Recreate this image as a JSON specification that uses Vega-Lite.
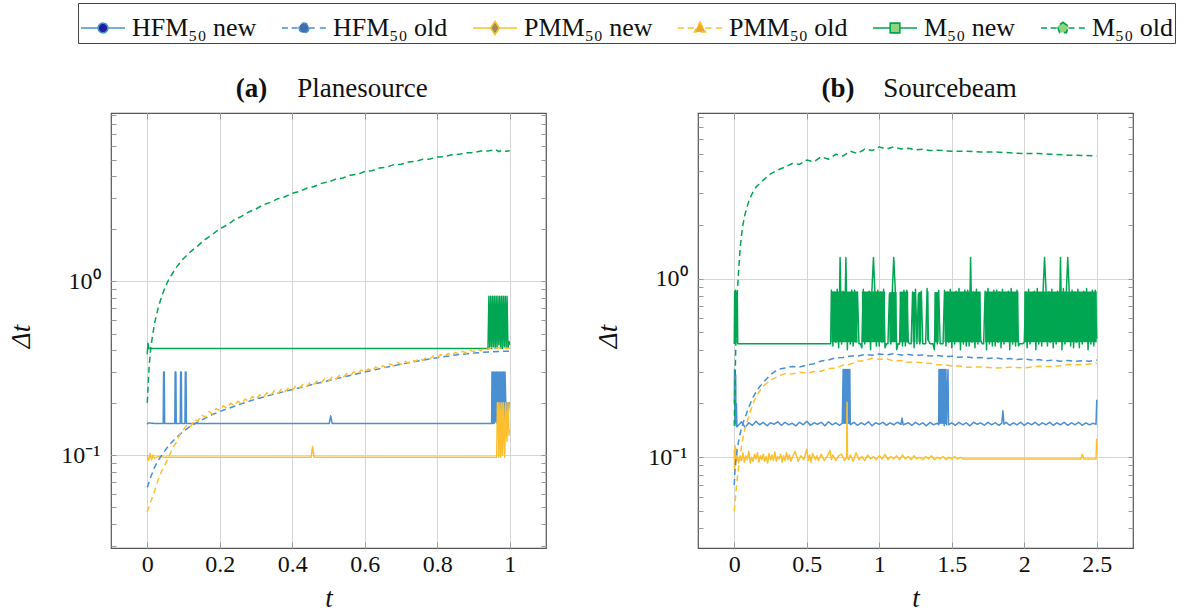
{
"$schema":"https://vega.github.io/schema/vega-lite/v6.json",
"background":"white",
"padding":{"left":6,"top":2,"right":5,"bottom":5},
"bounds":"flush",
"spacing":152,
"config":{
 "font":"Liberation Serif",
 "view":{"stroke":"#555","strokeWidth":1.2},
 "axis":{"labelFont":"Liberation Serif","labelFontSize":24,"labelColor":"#111","titleFont":"Liberation Serif","titleFontSize":27,"titleFontWeight":"normal","titleColor":"#111","domain":false,"tickColor":"#999","gridColor":"#d6d6d6","gridWidth":1,"labelOverlap":false,"labelFlush":false},
 "legend":{"orient":"none","legendX":-33,"legendY":-110,"direction":"horizontal","columns":6,"padding":2,"strokeColor":"#444","cornerRadius":0,"labelFont":"Liberation Serif","labelFontSize":26,"labelColor":"#111","labelOffset":6,"labelLimit":300,"columnPadding":21,"symbolSize":1936,"symbolStrokeWidth":1.6,"symbolOpacity":1}
},
"datasets":{
"a":[
{"s":"HFMn","t":0,"v":0.15},{"s":"HFMn","t":0.002,"v":0.153},{"s":"HFMn","t":0.02,"v":0.152},{"s":"HFMn","t":0.044,"v":0.152},{"s":"HFMn","t":0.045,"v":0.3},{"s":"HFMn","t":0.047,"v":0.3},{"s":"HFMn","t":0.048,"v":0.152},{"s":"HFMn","t":0.076,"v":0.152},{"s":"HFMn","t":0.077,"v":0.3},{"s":"HFMn","t":0.079,"v":0.3},{"s":"HFMn","t":0.08,"v":0.152},{"s":"HFMn","t":0.091,"v":0.152},{"s":"HFMn","t":0.092,"v":0.3},{"s":"HFMn","t":0.094,"v":0.3},{"s":"HFMn","t":0.095,"v":0.152},{"s":"HFMn","t":0.104,"v":0.152},{"s":"HFMn","t":0.105,"v":0.3},{"s":"HFMn","t":0.107,"v":0.3},{"s":"HFMn","t":0.108,"v":0.152},{"s":"HFMn","t":0.3,"v":0.152},{"s":"HFMn","t":0.502,"v":0.152},{"s":"HFMn","t":0.506,"v":0.168},{"s":"HFMn","t":0.51,"v":0.152},{"s":"HFMn","t":0.75,"v":0.152},{"s":"HFMn","t":0.95,"v":0.152},{"s":"HFMn","t":0.951,"v":0.3},{"s":"HFMn","t":0.953,"v":0.152},{"s":"HFMn","t":0.955,"v":0.3},{"s":"HFMn","t":0.957,"v":0.152},{"s":"HFMn","t":0.959,"v":0.3},{"s":"HFMn","t":0.961,"v":0.155},{"s":"HFMn","t":0.963,"v":0.3},{"s":"HFMn","t":0.965,"v":0.152},{"s":"HFMn","t":0.967,"v":0.3},{"s":"HFMn","t":0.969,"v":0.16},{"s":"HFMn","t":0.971,"v":0.3},{"s":"HFMn","t":0.973,"v":0.152},{"s":"HFMn","t":0.975,"v":0.3},{"s":"HFMn","t":0.977,"v":0.152},{"s":"HFMn","t":0.979,"v":0.3},{"s":"HFMn","t":0.981,"v":0.152},{"s":"HFMn","t":0.983,"v":0.3},{"s":"HFMn","t":0.985,"v":0.155},{"s":"HFMn","t":0.987,"v":0.3},{"s":"HFMn","t":0.989,"v":0.2},{"s":"HFMn","t":0.991,"v":0.152},{"s":"HFMn","t":0.993,"v":0.2},{"s":"HFMn","t":0.995,"v":0.16},{"s":"HFMn","t":0.998,"v":0.2},{"s":"HFMn","t":1.0,"v":0.2},
{"s":"PMMn","t":0,"v":0.1},{"s":"PMMn","t":0.004,"v":0.093},{"s":"PMMn","t":0.008,"v":0.102},{"s":"PMMn","t":0.012,"v":0.094},{"s":"PMMn","t":0.016,"v":0.1},{"s":"PMMn","t":0.02,"v":0.096},{"s":"PMMn","t":0.03,"v":0.098},{"s":"PMMn","t":0.05,"v":0.097},{"s":"PMMn","t":0.2,"v":0.097},{"s":"PMMn","t":0.452,"v":0.097},{"s":"PMMn","t":0.456,"v":0.112},{"s":"PMMn","t":0.46,"v":0.097},{"s":"PMMn","t":0.7,"v":0.097},{"s":"PMMn","t":0.964,"v":0.097},{"s":"PMMn","t":0.966,"v":0.2},{"s":"PMMn","t":0.968,"v":0.2},{"s":"PMMn","t":0.97,"v":0.097},{"s":"PMMn","t":0.973,"v":0.2},{"s":"PMMn","t":0.975,"v":0.097},{"s":"PMMn","t":0.978,"v":0.2},{"s":"PMMn","t":0.98,"v":0.1},{"s":"PMMn","t":0.983,"v":0.2},{"s":"PMMn","t":0.986,"v":0.097},{"s":"PMMn","t":0.989,"v":0.2},{"s":"PMMn","t":0.992,"v":0.12},{"s":"PMMn","t":0.995,"v":0.2},{"s":"PMMn","t":0.998,"v":0.13},{"s":"PMMn","t":1.0,"v":0.14},
{"s":"Mn","t":0,"v":0.38},{"s":"Mn","t":0.002,"v":0.44},{"s":"Mn","t":0.004,"v":0.41},{"s":"Mn","t":0.1,"v":0.41},{"s":"Mn","t":0.5,"v":0.41},{"s":"Mn","t":0.94,"v":0.41},{"s":"Mn","t":0.9425,"v":0.82},{"s":"Mn","t":0.945,"v":0.41},{"s":"Mn","t":0.9475,"v":0.82},{"s":"Mn","t":0.95,"v":0.41},{"s":"Mn","t":0.9525,"v":0.82},{"s":"Mn","t":0.955,"v":0.42},{"s":"Mn","t":0.9575,"v":0.82},{"s":"Mn","t":0.96,"v":0.41},{"s":"Mn","t":0.9625,"v":0.82},{"s":"Mn","t":0.965,"v":0.41},{"s":"Mn","t":0.9675,"v":0.82},{"s":"Mn","t":0.97,"v":0.43},{"s":"Mn","t":0.9725,"v":0.82},{"s":"Mn","t":0.975,"v":0.41},{"s":"Mn","t":0.9775,"v":0.82},{"s":"Mn","t":0.98,"v":0.41},{"s":"Mn","t":0.9825,"v":0.82},{"s":"Mn","t":0.985,"v":0.42},{"s":"Mn","t":0.9875,"v":0.82},{"s":"Mn","t":0.99,"v":0.41},{"s":"Mn","t":0.9925,"v":0.82},{"s":"Mn","t":0.995,"v":0.41},{"s":"Mn","t":0.998,"v":0.45},{"s":"Mn","t":1.0,"v":0.43},
{"s":"HFMo","t":0,"v":0.065},{"s":"HFMo","t":0.01,"v":0.075},{"s":"HFMo","t":0.02,"v":0.085},{"s":"HFMo","t":0.03,"v":0.093},{"s":"HFMo","t":0.04,"v":0.1},{"s":"HFMo","t":0.06,"v":0.114},{"s":"HFMo","t":0.08,"v":0.126},{"s":"HFMo","t":0.1,"v":0.137},{"s":"HFMo","t":0.12,"v":0.147},{"s":"HFMo","t":0.14,"v":0.155},{"s":"HFMo","t":0.16,"v":0.163},{"s":"HFMo","t":0.18,"v":0.171},{"s":"HFMo","t":0.2,"v":0.178},{"s":"HFMo","t":0.25,"v":0.194},{"s":"HFMo","t":0.3,"v":0.21},{"s":"HFMo","t":0.35,"v":0.224},{"s":"HFMo","t":0.4,"v":0.238},{"s":"HFMo","t":0.45,"v":0.253},{"s":"HFMo","t":0.5,"v":0.268},{"s":"HFMo","t":0.55,"v":0.284},{"s":"HFMo","t":0.6,"v":0.3},{"s":"HFMo","t":0.65,"v":0.317},{"s":"HFMo","t":0.7,"v":0.333},{"s":"HFMo","t":0.75,"v":0.349},{"s":"HFMo","t":0.8,"v":0.363},{"s":"HFMo","t":0.85,"v":0.376},{"s":"HFMo","t":0.9,"v":0.386},{"s":"HFMo","t":0.95,"v":0.393},{"s":"HFMo","t":1.0,"v":0.396},
{"s":"PMMo","t":0,"v":0.047},{"s":"PMMo","t":0.01,"v":0.054},{"s":"PMMo","t":0.02,"v":0.062},{"s":"PMMo","t":0.03,"v":0.072},{"s":"PMMo","t":0.04,"v":0.081},{"s":"PMMo","t":0.05,"v":0.089},{"s":"PMMo","t":0.06,"v":0.098},{"s":"PMMo","t":0.07,"v":0.11},{"s":"PMMo","t":0.08,"v":0.118},{"s":"PMMo","t":0.09,"v":0.132},{"s":"PMMo","t":0.1,"v":0.14},{"s":"PMMo","t":0.11,"v":0.15},{"s":"PMMo","t":0.12,"v":0.146},{"s":"PMMo","t":0.13,"v":0.16},{"s":"PMMo","t":0.14,"v":0.157},{"s":"PMMo","t":0.15,"v":0.17},{"s":"PMMo","t":0.16,"v":0.165},{"s":"PMMo","t":0.17,"v":0.178},{"s":"PMMo","t":0.18,"v":0.172},{"s":"PMMo","t":0.19,"v":0.185},{"s":"PMMo","t":0.2,"v":0.18},{"s":"PMMo","t":0.21,"v":0.192},{"s":"PMMo","t":0.22,"v":0.186},{"s":"PMMo","t":0.23,"v":0.199},{"s":"PMMo","t":0.24,"v":0.192},{"s":"PMMo","t":0.25,"v":0.204},{"s":"PMMo","t":0.26,"v":0.198},{"s":"PMMo","t":0.27,"v":0.21},{"s":"PMMo","t":0.28,"v":0.203},{"s":"PMMo","t":0.29,"v":0.217},{"s":"PMMo","t":0.3,"v":0.209},{"s":"PMMo","t":0.31,"v":0.222},{"s":"PMMo","t":0.32,"v":0.214},{"s":"PMMo","t":0.33,"v":0.228},{"s":"PMMo","t":0.34,"v":0.22},{"s":"PMMo","t":0.35,"v":0.234},{"s":"PMMo","t":0.36,"v":0.225},{"s":"PMMo","t":0.37,"v":0.24},{"s":"PMMo","t":0.38,"v":0.231},{"s":"PMMo","t":0.39,"v":0.244},{"s":"PMMo","t":0.4,"v":0.236},{"s":"PMMo","t":0.41,"v":0.25},{"s":"PMMo","t":0.42,"v":0.242},{"s":"PMMo","t":0.43,"v":0.257},{"s":"PMMo","t":0.44,"v":0.248},{"s":"PMMo","t":0.45,"v":0.263},{"s":"PMMo","t":0.46,"v":0.255},{"s":"PMMo","t":0.47,"v":0.268},{"s":"PMMo","t":0.48,"v":0.26},{"s":"PMMo","t":0.49,"v":0.275},{"s":"PMMo","t":0.5,"v":0.266},{"s":"PMMo","t":0.51,"v":0.281},{"s":"PMMo","t":0.52,"v":0.273},{"s":"PMMo","t":0.53,"v":0.287},{"s":"PMMo","t":0.54,"v":0.279},{"s":"PMMo","t":0.55,"v":0.294},{"s":"PMMo","t":0.56,"v":0.286},{"s":"PMMo","t":0.57,"v":0.301},{"s":"PMMo","t":0.58,"v":0.292},{"s":"PMMo","t":0.59,"v":0.308},{"s":"PMMo","t":0.6,"v":0.299},{"s":"PMMo","t":0.61,"v":0.313},{"s":"PMMo","t":0.62,"v":0.305},{"s":"PMMo","t":0.63,"v":0.321},{"s":"PMMo","t":0.64,"v":0.312},{"s":"PMMo","t":0.65,"v":0.327},{"s":"PMMo","t":0.66,"v":0.318},{"s":"PMMo","t":0.67,"v":0.334},{"s":"PMMo","t":0.68,"v":0.325},{"s":"PMMo","t":0.69,"v":0.341},{"s":"PMMo","t":0.7,"v":0.332},{"s":"PMMo","t":0.71,"v":0.347},{"s":"PMMo","t":0.72,"v":0.338},{"s":"PMMo","t":0.73,"v":0.354},{"s":"PMMo","t":0.74,"v":0.345},{"s":"PMMo","t":0.75,"v":0.36},{"s":"PMMo","t":0.76,"v":0.351},{"s":"PMMo","t":0.77,"v":0.366},{"s":"PMMo","t":0.78,"v":0.357},{"s":"PMMo","t":0.79,"v":0.372},{"s":"PMMo","t":0.8,"v":0.362},{"s":"PMMo","t":0.81,"v":0.378},{"s":"PMMo","t":0.82,"v":0.368},{"s":"PMMo","t":0.83,"v":0.384},{"s":"PMMo","t":0.84,"v":0.373},{"s":"PMMo","t":0.85,"v":0.389},{"s":"PMMo","t":0.86,"v":0.38},{"s":"PMMo","t":0.87,"v":0.395},{"s":"PMMo","t":0.88,"v":0.386},{"s":"PMMo","t":0.89,"v":0.401},{"s":"PMMo","t":0.9,"v":0.392},{"s":"PMMo","t":0.91,"v":0.408},{"s":"PMMo","t":0.92,"v":0.398},{"s":"PMMo","t":0.93,"v":0.415},{"s":"PMMo","t":0.94,"v":0.404},{"s":"PMMo","t":0.95,"v":0.418},{"s":"PMMo","t":0.96,"v":0.41},{"s":"PMMo","t":0.97,"v":0.415},{"s":"PMMo","t":0.98,"v":0.408},{"s":"PMMo","t":0.99,"v":0.412},{"s":"PMMo","t":1.0,"v":0.41},
{"s":"Mo","t":0,"v":0.2},{"s":"Mo","t":0.005,"v":0.32},{"s":"Mo","t":0.01,"v":0.42},{"s":"Mo","t":0.02,"v":0.57},{"s":"Mo","t":0.03,"v":0.7},{"s":"Mo","t":0.04,"v":0.82},{"s":"Mo","t":0.05,"v":0.93},{"s":"Mo","t":0.06,"v":1.03},{"s":"Mo","t":0.08,"v":1.2},{"s":"Mo","t":0.1,"v":1.35},{"s":"Mo","t":0.12,"v":1.48},{"s":"Mo","t":0.14,"v":1.6},{"s":"Mo","t":0.16,"v":1.74},{"s":"Mo","t":0.18,"v":1.86},{"s":"Mo","t":0.2,"v":2.0},{"s":"Mo","t":0.22,"v":2.1},{"s":"Mo","t":0.24,"v":2.25},{"s":"Mo","t":0.26,"v":2.36},{"s":"Mo","t":0.28,"v":2.5},{"s":"Mo","t":0.3,"v":2.6},{"s":"Mo","t":0.32,"v":2.75},{"s":"Mo","t":0.34,"v":2.84},{"s":"Mo","t":0.36,"v":2.98},{"s":"Mo","t":0.38,"v":3.06},{"s":"Mo","t":0.4,"v":3.2},{"s":"Mo","t":0.42,"v":3.28},{"s":"Mo","t":0.44,"v":3.42},{"s":"Mo","t":0.46,"v":3.5},{"s":"Mo","t":0.48,"v":3.65},{"s":"Mo","t":0.5,"v":3.72},{"s":"Mo","t":0.52,"v":3.86},{"s":"Mo","t":0.54,"v":3.92},{"s":"Mo","t":0.56,"v":4.07},{"s":"Mo","t":0.58,"v":4.12},{"s":"Mo","t":0.6,"v":4.27},{"s":"Mo","t":0.62,"v":4.32},{"s":"Mo","t":0.64,"v":4.47},{"s":"Mo","t":0.66,"v":4.52},{"s":"Mo","t":0.68,"v":4.68},{"s":"Mo","t":0.7,"v":4.7},{"s":"Mo","t":0.72,"v":4.84},{"s":"Mo","t":0.74,"v":4.88},{"s":"Mo","t":0.76,"v":5.02},{"s":"Mo","t":0.78,"v":5.04},{"s":"Mo","t":0.8,"v":5.18},{"s":"Mo","t":0.82,"v":5.2},{"s":"Mo","t":0.84,"v":5.33},{"s":"Mo","t":0.86,"v":5.36},{"s":"Mo","t":0.88,"v":5.48},{"s":"Mo","t":0.9,"v":5.48},{"s":"Mo","t":0.92,"v":5.6},{"s":"Mo","t":0.94,"v":5.6},{"s":"Mo","t":0.96,"v":5.72},{"s":"Mo","t":0.97,"v":5.55},{"s":"Mo","t":0.98,"v":5.68},{"s":"Mo","t":0.99,"v":5.58},{"s":"Mo","t":1.0,"v":5.62}
],
"bband":[
{"t1":0.67,"t2":0.85,"lo":0.44,"hi":0.845},{"t1":0.88,"t2":1.04,"lo":0.44,"hi":0.845},{"t1":1.07,"t2":1.12,"lo":0.44,"hi":0.84},{"t1":1.14,"t2":1.2,"lo":0.44,"hi":0.845},{"t1":1.23,"t2":1.25,"lo":0.44,"hi":0.84},{"t1":1.27,"t2":1.29,"lo":0.44,"hi":0.84},{"t1":1.33,"t2":1.34,"lo":0.45,"hi":0.85},{"t1":1.38,"t2":1.41,"lo":0.44,"hi":0.84},{"t1":1.45,"t2":1.7,"lo":0.44,"hi":0.845},{"t1":1.73,"t2":1.96,"lo":0.44,"hi":0.845},{"t1":2.0,"t2":2.5,"lo":0.44,"hi":0.845}
],
"b":[
{"s":"HFMn","t":0,"v":0.2},{"s":"HFMn","t":0.002,"v":0.31},{"s":"HFMn","t":0.004,"v":0.16},{"s":"HFMn","t":0.006,"v":0.3},{"s":"HFMn","t":0.008,"v":0.155},{"s":"HFMn","t":0.01,"v":0.29},{"s":"HFMn","t":0.012,"v":0.15},{"s":"HFMn","t":0.015,"v":0.2},{"s":"HFMn","t":0.018,"v":0.148},{"s":"HFMn","t":0.025,"v":0.15},{"s":"HFMn","t":0.05,"v":0.158},{"s":"HFMn","t":0.075,"v":0.147},{"s":"HFMn","t":0.1,"v":0.156},{"s":"HFMn","t":0.125,"v":0.151},{"s":"HFMn","t":0.15,"v":0.159},{"s":"HFMn","t":0.175,"v":0.152},{"s":"HFMn","t":0.2,"v":0.157},{"s":"HFMn","t":0.225,"v":0.15},{"s":"HFMn","t":0.25,"v":0.156},{"s":"HFMn","t":0.275,"v":0.153},{"s":"HFMn","t":0.3,"v":0.158},{"s":"HFMn","t":0.325,"v":0.151},{"s":"HFMn","t":0.35,"v":0.157},{"s":"HFMn","t":0.375,"v":0.152},{"s":"HFMn","t":0.4,"v":0.155},{"s":"HFMn","t":0.425,"v":0.15},{"s":"HFMn","t":0.45,"v":0.157},{"s":"HFMn","t":0.475,"v":0.152},{"s":"HFMn","t":0.5,"v":0.159},{"s":"HFMn","t":0.525,"v":0.151},{"s":"HFMn","t":0.55,"v":0.156},{"s":"HFMn","t":0.575,"v":0.153},{"s":"HFMn","t":0.6,"v":0.157},{"s":"HFMn","t":0.625,"v":0.15},{"s":"HFMn","t":0.65,"v":0.158},{"s":"HFMn","t":0.675,"v":0.152},{"s":"HFMn","t":0.7,"v":0.156},{"s":"HFMn","t":0.725,"v":0.151},{"s":"HFMn","t":0.745,"v":0.155},{"s":"HFMn","t":0.751,"v":0.31},{"s":"HFMn","t":0.755,"v":0.155},{"s":"HFMn","t":0.759,"v":0.31},{"s":"HFMn","t":0.763,"v":0.155},{"s":"HFMn","t":0.767,"v":0.31},{"s":"HFMn","t":0.771,"v":0.155},{"s":"HFMn","t":0.775,"v":0.31},{"s":"HFMn","t":0.779,"v":0.155},{"s":"HFMn","t":0.783,"v":0.31},{"s":"HFMn","t":0.787,"v":0.155},{"s":"HFMn","t":0.791,"v":0.31},{"s":"HFMn","t":0.795,"v":0.155},{"s":"HFMn","t":0.797,"v":0.31},{"s":"HFMn","t":0.8,"v":0.152},{"s":"HFMn","t":0.825,"v":0.157},{"s":"HFMn","t":0.85,"v":0.151},{"s":"HFMn","t":0.875,"v":0.156},{"s":"HFMn","t":0.9,"v":0.152},{"s":"HFMn","t":0.925,"v":0.158},{"s":"HFMn","t":0.95,"v":0.15},{"s":"HFMn","t":0.975,"v":0.156},{"s":"HFMn","t":1.0,"v":0.153},{"s":"HFMn","t":1.025,"v":0.157},{"s":"HFMn","t":1.05,"v":0.151},{"s":"HFMn","t":1.075,"v":0.156},{"s":"HFMn","t":1.1,"v":0.152},{"s":"HFMn","t":1.125,"v":0.157},{"s":"HFMn","t":1.15,"v":0.153},{"s":"HFMn","t":1.157,"v":0.166},{"s":"HFMn","t":1.165,"v":0.152},{"s":"HFMn","t":1.2,"v":0.156},{"s":"HFMn","t":1.225,"v":0.151},{"s":"HFMn","t":1.25,"v":0.157},{"s":"HFMn","t":1.275,"v":0.152},{"s":"HFMn","t":1.3,"v":0.156},{"s":"HFMn","t":1.325,"v":0.15},{"s":"HFMn","t":1.35,"v":0.157},{"s":"HFMn","t":1.375,"v":0.152},{"s":"HFMn","t":1.4,"v":0.155},{"s":"HFMn","t":1.41,"v":0.152},{"s":"HFMn","t":1.412,"v":0.31},{"s":"HFMn","t":1.416,"v":0.155},{"s":"HFMn","t":1.42,"v":0.31},{"s":"HFMn","t":1.424,"v":0.155},{"s":"HFMn","t":1.428,"v":0.31},{"s":"HFMn","t":1.432,"v":0.155},{"s":"HFMn","t":1.436,"v":0.31},{"s":"HFMn","t":1.44,"v":0.155},{"s":"HFMn","t":1.444,"v":0.31},{"s":"HFMn","t":1.448,"v":0.15},{"s":"HFMn","t":1.452,"v":0.31},{"s":"HFMn","t":1.456,"v":0.155},{"s":"HFMn","t":1.46,"v":0.31},{"s":"HFMn","t":1.464,"v":0.152},{"s":"HFMn","t":1.474,"v":0.31},{"s":"HFMn","t":1.478,"v":0.152},{"s":"HFMn","t":1.5,"v":0.156},{"s":"HFMn","t":1.525,"v":0.151},{"s":"HFMn","t":1.55,"v":0.157},{"s":"HFMn","t":1.575,"v":0.152},{"s":"HFMn","t":1.6,"v":0.156},{"s":"HFMn","t":1.625,"v":0.15},{"s":"HFMn","t":1.65,"v":0.157},{"s":"HFMn","t":1.675,"v":0.153},{"s":"HFMn","t":1.7,"v":0.156},{"s":"HFMn","t":1.725,"v":0.151},{"s":"HFMn","t":1.75,"v":0.157},{"s":"HFMn","t":1.775,"v":0.152},{"s":"HFMn","t":1.8,"v":0.156},{"s":"HFMn","t":1.825,"v":0.151},{"s":"HFMn","t":1.845,"v":0.155},{"s":"HFMn","t":1.853,"v":0.182},{"s":"HFMn","t":1.86,"v":0.153},{"s":"HFMn","t":1.875,"v":0.157},{"s":"HFMn","t":1.9,"v":0.151},{"s":"HFMn","t":1.925,"v":0.156},{"s":"HFMn","t":1.95,"v":0.152},{"s":"HFMn","t":1.975,"v":0.157},{"s":"HFMn","t":2.0,"v":0.151},{"s":"HFMn","t":2.025,"v":0.156},{"s":"HFMn","t":2.05,"v":0.152},{"s":"HFMn","t":2.075,"v":0.157},{"s":"HFMn","t":2.1,"v":0.151},{"s":"HFMn","t":2.125,"v":0.156},{"s":"HFMn","t":2.15,"v":0.152},{"s":"HFMn","t":2.175,"v":0.157},{"s":"HFMn","t":2.2,"v":0.151},{"s":"HFMn","t":2.225,"v":0.156},{"s":"HFMn","t":2.25,"v":0.152},{"s":"HFMn","t":2.275,"v":0.157},{"s":"HFMn","t":2.3,"v":0.151},{"s":"HFMn","t":2.325,"v":0.156},{"s":"HFMn","t":2.35,"v":0.152},{"s":"HFMn","t":2.375,"v":0.157},{"s":"HFMn","t":2.4,"v":0.151},{"s":"HFMn","t":2.425,"v":0.156},{"s":"HFMn","t":2.45,"v":0.152},{"s":"HFMn","t":2.475,"v":0.155},{"s":"HFMn","t":2.495,"v":0.153},{"s":"HFMn","t":2.5,"v":0.21},
{"s":"PMMn","t":0,"v":0.11},{"s":"PMMn","t":0.003,"v":0.085},{"s":"PMMn","t":0.006,"v":0.116},{"s":"PMMn","t":0.009,"v":0.09},{"s":"PMMn","t":0.012,"v":0.112},{"s":"PMMn","t":0.015,"v":0.095},{"s":"PMMn","t":0.02,"v":0.104},{"s":"PMMn","t":0.03,"v":0.093},{"s":"PMMn","t":0.04,"v":0.101},{"s":"PMMn","t":0.05,"v":0.096},{"s":"PMMn","t":0.06,"v":0.106},{"s":"PMMn","t":0.07,"v":0.094},{"s":"PMMn","t":0.08,"v":0.102},{"s":"PMMn","t":0.09,"v":0.097},{"s":"PMMn","t":0.1,"v":0.108},{"s":"PMMn","t":0.11,"v":0.093},{"s":"PMMn","t":0.12,"v":0.1},{"s":"PMMn","t":0.13,"v":0.095},{"s":"PMMn","t":0.14,"v":0.104},{"s":"PMMn","t":0.15,"v":0.098},{"s":"PMMn","t":0.16,"v":0.106},{"s":"PMMn","t":0.17,"v":0.094},{"s":"PMMn","t":0.18,"v":0.102},{"s":"PMMn","t":0.19,"v":0.097},{"s":"PMMn","t":0.2,"v":0.104},{"s":"PMMn","t":0.21,"v":0.095},{"s":"PMMn","t":0.22,"v":0.101},{"s":"PMMn","t":0.23,"v":0.093},{"s":"PMMn","t":0.24,"v":0.105},{"s":"PMMn","t":0.25,"v":0.097},{"s":"PMMn","t":0.26,"v":0.103},{"s":"PMMn","t":0.27,"v":0.096},{"s":"PMMn","t":0.28,"v":0.107},{"s":"PMMn","t":0.29,"v":0.095},{"s":"PMMn","t":0.3,"v":0.101},{"s":"PMMn","t":0.31,"v":0.098},{"s":"PMMn","t":0.32,"v":0.104},{"s":"PMMn","t":0.33,"v":0.094},{"s":"PMMn","t":0.34,"v":0.102},{"s":"PMMn","t":0.35,"v":0.096},{"s":"PMMn","t":0.36,"v":0.106},{"s":"PMMn","t":0.37,"v":0.097},{"s":"PMMn","t":0.38,"v":0.103},{"s":"PMMn","t":0.39,"v":0.095},{"s":"PMMn","t":0.4,"v":0.1},{"s":"PMMn","t":0.42,"v":0.108},{"s":"PMMn","t":0.44,"v":0.095},{"s":"PMMn","t":0.46,"v":0.102},{"s":"PMMn","t":0.48,"v":0.097},{"s":"PMMn","t":0.5,"v":0.111},{"s":"PMMn","t":0.51,"v":0.096},{"s":"PMMn","t":0.52,"v":0.103},{"s":"PMMn","t":0.53,"v":0.094},{"s":"PMMn","t":0.54,"v":0.105},{"s":"PMMn","t":0.56,"v":0.097},{"s":"PMMn","t":0.57,"v":0.102},{"s":"PMMn","t":0.58,"v":0.096},{"s":"PMMn","t":0.6,"v":0.104},{"s":"PMMn","t":0.62,"v":0.096},{"s":"PMMn","t":0.64,"v":0.101},{"s":"PMMn","t":0.66,"v":0.109},{"s":"PMMn","t":0.67,"v":0.097},{"s":"PMMn","t":0.68,"v":0.103},{"s":"PMMn","t":0.7,"v":0.096},{"s":"PMMn","t":0.72,"v":0.102},{"s":"PMMn","t":0.74,"v":0.104},{"s":"PMMn","t":0.76,"v":0.096},{"s":"PMMn","t":0.775,"v":0.1},{"s":"PMMn","t":0.778,"v":0.203},{"s":"PMMn","t":0.781,"v":0.1},{"s":"PMMn","t":0.79,"v":0.097},{"s":"PMMn","t":0.8,"v":0.103},{"s":"PMMn","t":0.82,"v":0.095},{"s":"PMMn","t":0.84,"v":0.106},{"s":"PMMn","t":0.86,"v":0.097},{"s":"PMMn","t":0.88,"v":0.101},{"s":"PMMn","t":0.9,"v":0.096},{"s":"PMMn","t":0.92,"v":0.103},{"s":"PMMn","t":0.94,"v":0.098},{"s":"PMMn","t":0.96,"v":0.101},{"s":"PMMn","t":0.98,"v":0.097},{"s":"PMMn","t":1.0,"v":0.102},{"s":"PMMn","t":1.02,"v":0.098},{"s":"PMMn","t":1.04,"v":0.104},{"s":"PMMn","t":1.06,"v":0.097},{"s":"PMMn","t":1.08,"v":0.101},{"s":"PMMn","t":1.1,"v":0.098},{"s":"PMMn","t":1.12,"v":0.102},{"s":"PMMn","t":1.14,"v":0.097},{"s":"PMMn","t":1.16,"v":0.103},{"s":"PMMn","t":1.18,"v":0.098},{"s":"PMMn","t":1.2,"v":0.101},{"s":"PMMn","t":1.22,"v":0.097},{"s":"PMMn","t":1.24,"v":0.102},{"s":"PMMn","t":1.26,"v":0.098},{"s":"PMMn","t":1.28,"v":0.1},{"s":"PMMn","t":1.3,"v":0.097},{"s":"PMMn","t":1.32,"v":0.101},{"s":"PMMn","t":1.34,"v":0.098},{"s":"PMMn","t":1.36,"v":0.102},{"s":"PMMn","t":1.38,"v":0.097},{"s":"PMMn","t":1.4,"v":0.1},{"s":"PMMn","t":1.42,"v":0.098},{"s":"PMMn","t":1.44,"v":0.101},{"s":"PMMn","t":1.46,"v":0.097},{"s":"PMMn","t":1.48,"v":0.1},{"s":"PMMn","t":1.5,"v":0.098},{"s":"PMMn","t":1.52,"v":0.101},{"s":"PMMn","t":1.54,"v":0.098},{"s":"PMMn","t":1.56,"v":0.1},{"s":"PMMn","t":1.58,"v":0.098},{"s":"PMMn","t":1.8,"v":0.098},{"s":"PMMn","t":2.0,"v":0.098},{"s":"PMMn","t":2.39,"v":0.098},{"s":"PMMn","t":2.4,"v":0.104},{"s":"PMMn","t":2.41,"v":0.098},{"s":"PMMn","t":2.495,"v":0.098},{"s":"PMMn","t":2.5,"v":0.127},
{"s":"Mn","t":0,"v":0.43},{"s":"Mn","t":0.003,"v":0.85},{"s":"Mn","t":0.006,"v":0.45},{"s":"Mn","t":0.009,"v":0.86},{"s":"Mn","t":0.012,"v":0.44},{"s":"Mn","t":0.015,"v":0.84},{"s":"Mn","t":0.018,"v":0.47},{"s":"Mn","t":0.021,"v":0.83},{"s":"Mn","t":0.024,"v":0.432},{"s":"Mn","t":0.1,"v":0.432},{"s":"Mn","t":0.3,"v":0.432},{"s":"Mn","t":0.5,"v":0.432},{"s":"Mn","t":0.665,"v":0.432},
{"s":"Mn","t":0.67,"v":0.86},{"s":"Mn","t":0.68,"v":0.42},{"s":"Mn","t":0.69,"v":0.84},{"s":"Mn","t":0.7,"v":0.44},{"s":"Mn","t":0.71,"v":0.87},{"s":"Mn","t":0.72,"v":0.41},{"s":"Mn","t":0.73,"v":1.31},{"s":"Mn","t":0.74,"v":0.43},{"s":"Mn","t":0.75,"v":0.85},{"s":"Mn","t":0.76,"v":0.45},{"s":"Mn","t":0.77,"v":1.31},{"s":"Mn","t":0.78,"v":0.4},{"s":"Mn","t":0.79,"v":0.83},{"s":"Mn","t":0.8,"v":0.43},{"s":"Mn","t":0.81,"v":0.86},{"s":"Mn","t":0.82,"v":0.42},{"s":"Mn","t":0.83,"v":0.86},{"s":"Mn","t":0.84,"v":0.44},{"s":"Mn","t":0.85,"v":0.84},{"s":"Mn","t":0.86,"v":0.432},{"s":"Mn","t":0.87,"v":0.432},{"s":"Mn","t":0.88,"v":0.41},{"s":"Mn","t":0.89,"v":0.87},{"s":"Mn","t":0.9,"v":0.43},{"s":"Mn","t":0.91,"v":0.82},{"s":"Mn","t":0.92,"v":0.45},{"s":"Mn","t":0.93,"v":0.85},{"s":"Mn","t":0.94,"v":0.4},{"s":"Mn","t":0.95,"v":0.88},{"s":"Mn","t":0.96,"v":1.31},{"s":"Mn","t":0.97,"v":0.83},{"s":"Mn","t":0.98,"v":0.42},{"s":"Mn","t":0.99,"v":0.86},{"s":"Mn","t":1.0,"v":0.42},{"s":"Mn","t":1.01,"v":0.84},{"s":"Mn","t":1.02,"v":0.44},{"s":"Mn","t":1.03,"v":0.87},{"s":"Mn","t":1.04,"v":0.41},{"s":"Mn","t":1.05,"v":0.432},{"s":"Mn","t":1.06,"v":0.432},{"s":"Mn","t":1.07,"v":0.82},{"s":"Mn","t":1.08,"v":0.43},{"s":"Mn","t":1.09,"v":0.85},{"s":"Mn","t":1.1,"v":1.31},{"s":"Mn","t":1.11,"v":0.88},{"s":"Mn","t":1.12,"v":0.4},{"s":"Mn","t":1.13,"v":0.432},{"s":"Mn","t":1.14,"v":0.43},{"s":"Mn","t":1.15,"v":0.83},{"s":"Mn","t":1.16,"v":0.42},{"s":"Mn","t":1.17,"v":0.86},{"s":"Mn","t":1.18,"v":0.42},{"s":"Mn","t":1.19,"v":0.86},{"s":"Mn","t":1.2,"v":0.44},{"s":"Mn","t":1.21,"v":0.432},{"s":"Mn","t":1.22,"v":0.432},{"s":"Mn","t":1.23,"v":0.84},{"s":"Mn","t":1.24,"v":0.41},{"s":"Mn","t":1.25,"v":0.87},{"s":"Mn","t":1.26,"v":0.432},{"s":"Mn","t":1.27,"v":0.82},{"s":"Mn","t":1.28,"v":0.43},{"s":"Mn","t":1.29,"v":0.85},{"s":"Mn","t":1.3,"v":0.432},{"s":"Mn","t":1.31,"v":0.432},{"s":"Mn","t":1.32,"v":0.432},{"s":"Mn","t":1.33,"v":0.88},{"s":"Mn","t":1.34,"v":0.45},{"s":"Mn","t":1.35,"v":0.432},{"s":"Mn","t":1.36,"v":0.432},{"s":"Mn","t":1.37,"v":0.432},{"s":"Mn","t":1.38,"v":0.4},{"s":"Mn","t":1.39,"v":0.83},{"s":"Mn","t":1.4,"v":0.43},{"s":"Mn","t":1.41,"v":0.86},{"s":"Mn","t":1.42,"v":0.432},{"s":"Mn","t":1.43,"v":0.432},{"s":"Mn","t":1.44,"v":0.432},{"s":"Mn","t":1.45,"v":0.86},{"s":"Mn","t":1.46,"v":0.42},{"s":"Mn","t":1.47,"v":0.84},{"s":"Mn","t":1.48,"v":0.44},{"s":"Mn","t":1.49,"v":0.87},{"s":"Mn","t":1.5,"v":0.41},{"s":"Mn","t":1.51,"v":0.82},{"s":"Mn","t":1.52,"v":0.43},{"s":"Mn","t":1.53,"v":0.85},{"s":"Mn","t":1.54,"v":0.45},{"s":"Mn","t":1.55,"v":0.88},{"s":"Mn","t":1.56,"v":0.4},{"s":"Mn","t":1.57,"v":0.83},{"s":"Mn","t":1.58,"v":0.43},{"s":"Mn","t":1.59,"v":0.86},{"s":"Mn","t":1.6,"v":0.42},{"s":"Mn","t":1.61,"v":0.86},{"s":"Mn","t":1.62,"v":0.42},{"s":"Mn","t":1.63,"v":1.31},{"s":"Mn","t":1.64,"v":0.44},{"s":"Mn","t":1.65,"v":0.84},{"s":"Mn","t":1.66,"v":0.41},{"s":"Mn","t":1.67,"v":0.87},{"s":"Mn","t":1.68,"v":0.43},{"s":"Mn","t":1.69,"v":0.82},{"s":"Mn","t":1.7,"v":0.45},{"s":"Mn","t":1.71,"v":0.432},{"s":"Mn","t":1.72,"v":0.432},{"s":"Mn","t":1.73,"v":0.85},{"s":"Mn","t":1.74,"v":0.4},{"s":"Mn","t":1.75,"v":0.88},{"s":"Mn","t":1.76,"v":0.43},{"s":"Mn","t":1.77,"v":0.83},{"s":"Mn","t":1.78,"v":0.42},{"s":"Mn","t":1.79,"v":0.86},{"s":"Mn","t":1.8,"v":0.42},{"s":"Mn","t":1.81,"v":0.86},{"s":"Mn","t":1.82,"v":0.44},{"s":"Mn","t":1.83,"v":0.84},{"s":"Mn","t":1.84,"v":0.41},{"s":"Mn","t":1.85,"v":0.87},{"s":"Mn","t":1.86,"v":0.43},{"s":"Mn","t":1.87,"v":0.82},{"s":"Mn","t":1.88,"v":0.45},{"s":"Mn","t":1.89,"v":0.85},{"s":"Mn","t":1.9,"v":0.4},{"s":"Mn","t":1.91,"v":0.88},{"s":"Mn","t":1.92,"v":0.43},{"s":"Mn","t":1.93,"v":0.83},{"s":"Mn","t":1.94,"v":0.42},{"s":"Mn","t":1.95,"v":0.86},{"s":"Mn","t":1.96,"v":0.42},{"s":"Mn","t":1.97,"v":0.432},{"s":"Mn","t":1.98,"v":0.432},{"s":"Mn","t":1.99,"v":0.432},{"s":"Mn","t":2.0,"v":0.44},{"s":"Mn","t":2.01,"v":0.84},{"s":"Mn","t":2.02,"v":0.41},{"s":"Mn","t":2.03,"v":0.87},{"s":"Mn","t":2.04,"v":0.43},{"s":"Mn","t":2.05,"v":0.82},{"s":"Mn","t":2.06,"v":0.45},{"s":"Mn","t":2.07,"v":0.85},{"s":"Mn","t":2.08,"v":0.4},{"s":"Mn","t":2.09,"v":0.88},{"s":"Mn","t":2.1,"v":0.43},{"s":"Mn","t":2.11,"v":0.83},{"s":"Mn","t":2.12,"v":0.42},{"s":"Mn","t":2.13,"v":0.86},{"s":"Mn","t":2.14,"v":1.31},{"s":"Mn","t":2.15,"v":0.86},{"s":"Mn","t":2.16,"v":0.42},{"s":"Mn","t":2.17,"v":0.84},{"s":"Mn","t":2.18,"v":0.44},{"s":"Mn","t":2.19,"v":0.87},{"s":"Mn","t":2.2,"v":0.41},{"s":"Mn","t":2.21,"v":0.82},{"s":"Mn","t":2.22,"v":0.43},{"s":"Mn","t":2.23,"v":0.85},{"s":"Mn","t":2.24,"v":0.45},{"s":"Mn","t":2.25,"v":1.31},{"s":"Mn","t":2.26,"v":0.4},{"s":"Mn","t":2.27,"v":0.88},{"s":"Mn","t":2.28,"v":0.43},{"s":"Mn","t":2.29,"v":0.83},{"s":"Mn","t":2.3,"v":1.31},{"s":"Mn","t":2.31,"v":0.86},{"s":"Mn","t":2.32,"v":0.42},{"s":"Mn","t":2.33,"v":0.86},{"s":"Mn","t":2.34,"v":0.41},{"s":"Mn","t":2.35,"v":0.84},{"s":"Mn","t":2.36,"v":0.44},{"s":"Mn","t":2.37,"v":0.87},{"s":"Mn","t":2.38,"v":0.41},{"s":"Mn","t":2.39,"v":0.82},{"s":"Mn","t":2.4,"v":0.43},{"s":"Mn","t":2.41,"v":0.85},{"s":"Mn","t":2.42,"v":0.45},{"s":"Mn","t":2.43,"v":0.88},{"s":"Mn","t":2.44,"v":0.4},{"s":"Mn","t":2.45,"v":0.83},{"s":"Mn","t":2.46,"v":0.43},{"s":"Mn","t":2.47,"v":0.86},{"s":"Mn","t":2.48,"v":0.42},{"s":"Mn","t":2.49,"v":0.86},{"s":"Mn","t":2.5,"v":0.46},
{"s":"HFMo","t":0,"v":0.07},{"s":"HFMo","t":0.005,"v":0.085},{"s":"HFMo","t":0.01,"v":0.095},{"s":"HFMo","t":0.02,"v":0.11},{"s":"HFMo","t":0.03,"v":0.123},{"s":"HFMo","t":0.04,"v":0.135},{"s":"HFMo","t":0.06,"v":0.155},{"s":"HFMo","t":0.08,"v":0.172},{"s":"HFMo","t":0.1,"v":0.19},{"s":"HFMo","t":0.125,"v":0.213},{"s":"HFMo","t":0.15,"v":0.232},{"s":"HFMo","t":0.175,"v":0.248},{"s":"HFMo","t":0.2,"v":0.262},{"s":"HFMo","t":0.25,"v":0.29},{"s":"HFMo","t":0.3,"v":0.31},{"s":"HFMo","t":0.35,"v":0.316},{"s":"HFMo","t":0.4,"v":0.322},{"s":"HFMo","t":0.45,"v":0.32},{"s":"HFMo","t":0.5,"v":0.328},{"s":"HFMo","t":0.55,"v":0.334},{"s":"HFMo","t":0.6,"v":0.346},{"s":"HFMo","t":0.65,"v":0.35},{"s":"HFMo","t":0.7,"v":0.36},{"s":"HFMo","t":0.75,"v":0.362},{"s":"HFMo","t":0.8,"v":0.369},{"s":"HFMo","t":0.85,"v":0.368},{"s":"HFMo","t":0.9,"v":0.376},{"s":"HFMo","t":0.95,"v":0.372},{"s":"HFMo","t":1.0,"v":0.378},{"s":"HFMo","t":1.05,"v":0.374},{"s":"HFMo","t":1.1,"v":0.38},{"s":"HFMo","t":1.15,"v":0.373},{"s":"HFMo","t":1.2,"v":0.376},{"s":"HFMo","t":1.25,"v":0.371},{"s":"HFMo","t":1.3,"v":0.374},{"s":"HFMo","t":1.35,"v":0.369},{"s":"HFMo","t":1.4,"v":0.371},{"s":"HFMo","t":1.45,"v":0.366},{"s":"HFMo","t":1.5,"v":0.368},{"s":"HFMo","t":1.55,"v":0.363},{"s":"HFMo","t":1.6,"v":0.365},{"s":"HFMo","t":1.65,"v":0.36},{"s":"HFMo","t":1.7,"v":0.362},{"s":"HFMo","t":1.75,"v":0.357},{"s":"HFMo","t":1.8,"v":0.36},{"s":"HFMo","t":1.85,"v":0.355},{"s":"HFMo","t":1.9,"v":0.357},{"s":"HFMo","t":1.95,"v":0.352},{"s":"HFMo","t":2.0,"v":0.355},{"s":"HFMo","t":2.05,"v":0.35},{"s":"HFMo","t":2.1,"v":0.352},{"s":"HFMo","t":2.15,"v":0.347},{"s":"HFMo","t":2.2,"v":0.35},{"s":"HFMo","t":2.25,"v":0.345},{"s":"HFMo","t":2.3,"v":0.348},{"s":"HFMo","t":2.35,"v":0.344},{"s":"HFMo","t":2.4,"v":0.347},{"s":"HFMo","t":2.45,"v":0.345},{"s":"HFMo","t":2.5,"v":0.35},
{"s":"PMMo","t":0,"v":0.05},{"s":"PMMo","t":0.005,"v":0.055},{"s":"PMMo","t":0.01,"v":0.062},{"s":"PMMo","t":0.02,"v":0.075},{"s":"PMMo","t":0.03,"v":0.087},{"s":"PMMo","t":0.04,"v":0.1},{"s":"PMMo","t":0.05,"v":0.115},{"s":"PMMo","t":0.06,"v":0.128},{"s":"PMMo","t":0.075,"v":0.145},{"s":"PMMo","t":0.085,"v":0.154},{"s":"PMMo","t":0.1,"v":0.17},{"s":"PMMo","t":0.125,"v":0.195},{"s":"PMMo","t":0.15,"v":0.218},{"s":"PMMo","t":0.175,"v":0.235},{"s":"PMMo","t":0.2,"v":0.25},{"s":"PMMo","t":0.25,"v":0.27},{"s":"PMMo","t":0.3,"v":0.283},{"s":"PMMo","t":0.35,"v":0.294},{"s":"PMMo","t":0.4,"v":0.292},{"s":"PMMo","t":0.45,"v":0.3},{"s":"PMMo","t":0.5,"v":0.295},{"s":"PMMo","t":0.55,"v":0.302},{"s":"PMMo","t":0.6,"v":0.303},{"s":"PMMo","t":0.65,"v":0.314},{"s":"PMMo","t":0.7,"v":0.315},{"s":"PMMo","t":0.75,"v":0.328},{"s":"PMMo","t":0.8,"v":0.332},{"s":"PMMo","t":0.85,"v":0.345},{"s":"PMMo","t":0.9,"v":0.347},{"s":"PMMo","t":0.95,"v":0.358},{"s":"PMMo","t":1.0,"v":0.354},{"s":"PMMo","t":1.05,"v":0.355},{"s":"PMMo","t":1.1,"v":0.346},{"s":"PMMo","t":1.15,"v":0.348},{"s":"PMMo","t":1.2,"v":0.34},{"s":"PMMo","t":1.25,"v":0.342},{"s":"PMMo","t":1.3,"v":0.336},{"s":"PMMo","t":1.35,"v":0.336},{"s":"PMMo","t":1.4,"v":0.329},{"s":"PMMo","t":1.45,"v":0.33},{"s":"PMMo","t":1.5,"v":0.324},{"s":"PMMo","t":1.55,"v":0.324},{"s":"PMMo","t":1.6,"v":0.319},{"s":"PMMo","t":1.7,"v":0.32},{"s":"PMMo","t":1.8,"v":0.316},{"s":"PMMo","t":1.9,"v":0.319},{"s":"PMMo","t":2.0,"v":0.316},{"s":"PMMo","t":2.1,"v":0.323},{"s":"PMMo","t":2.2,"v":0.322},{"s":"PMMo","t":2.3,"v":0.33},{"s":"PMMo","t":2.4,"v":0.329},{"s":"PMMo","t":2.5,"v":0.336},
{"s":"Mo","t":0,"v":0.15},{"s":"Mo","t":0.005,"v":0.25},{"s":"Mo","t":0.01,"v":0.4},{"s":"Mo","t":0.015,"v":0.6},{"s":"Mo","t":0.02,"v":0.8},{"s":"Mo","t":0.03,"v":1.1},{"s":"Mo","t":0.04,"v":1.45},{"s":"Mo","t":0.05,"v":1.75},{"s":"Mo","t":0.06,"v":2.0},{"s":"Mo","t":0.075,"v":2.3},{"s":"Mo","t":0.1,"v":2.7},{"s":"Mo","t":0.125,"v":3.0},{"s":"Mo","t":0.15,"v":3.25},{"s":"Mo","t":0.175,"v":3.4},{"s":"Mo","t":0.2,"v":3.55},{"s":"Mo","t":0.25,"v":3.85},{"s":"Mo","t":0.3,"v":4.05},{"s":"Mo","t":0.35,"v":4.2},{"s":"Mo","t":0.4,"v":4.4},{"s":"Mo","t":0.45,"v":4.35},{"s":"Mo","t":0.5,"v":4.6},{"s":"Mo","t":0.55,"v":4.5},{"s":"Mo","t":0.6,"v":4.8},{"s":"Mo","t":0.65,"v":4.65},{"s":"Mo","t":0.7,"v":4.95},{"s":"Mo","t":0.75,"v":4.85},{"s":"Mo","t":0.8,"v":5.15},{"s":"Mo","t":0.85,"v":5.0},{"s":"Mo","t":0.9,"v":5.3},{"s":"Mo","t":0.95,"v":5.2},{"s":"Mo","t":1.0,"v":5.45},{"s":"Mo","t":1.05,"v":5.3},{"s":"Mo","t":1.1,"v":5.45},{"s":"Mo","t":1.15,"v":5.3},{"s":"Mo","t":1.2,"v":5.35},{"s":"Mo","t":1.25,"v":5.25},{"s":"Mo","t":1.3,"v":5.28},{"s":"Mo","t":1.35,"v":5.2},{"s":"Mo","t":1.4,"v":5.22},{"s":"Mo","t":1.5,"v":5.15},{"s":"Mo","t":1.6,"v":5.15},{"s":"Mo","t":1.7,"v":5.1},{"s":"Mo","t":1.8,"v":5.1},{"s":"Mo","t":1.9,"v":5.05},{"s":"Mo","t":2.0,"v":5.0},{"s":"Mo","t":2.1,"v":5.0},{"s":"Mo","t":2.2,"v":4.95},{"s":"Mo","t":2.3,"v":4.9},{"s":"Mo","t":2.4,"v":4.88},{"s":"Mo","t":2.5,"v":4.85}
]
},
"hconcat":[
{
 "width":435,"height":435,
 "data":{"name":"a"},
 "layer":[
  {
   "transform":[{"filter":"indexof(['HFMn','PMMn','Mn'], datum.s) >= 0"}],
   "mark":{"type":"line","strokeWidth":1.5,"clip":true,"strokeJoin":"round"},
   "encoding":{
    "x":{"field":"t","type":"quantitative","scale":{"domain":[-0.1,1.1],"nice":false,"zero":false},
     "axis":{"orient":"bottom","values":[0,0.2,0.4,0.6,0.8,1],"format":"~g","tickSize":-6,"labelPadding":10,"grid":true,"title":"t","titleFontStyle":"italic","titleY":58,"titleBaseline":"alphabetic"}},
    "y":{"field":"v","type":"quantitative","scale":{"type":"log","domain":[0.0292,9.27],"nice":false},
     "axis":{"orient":"left","values":[0.03,0.04,0.05,0.06,0.07,0.08,0.09,0.1,0.2,0.3,0.4,0.5,0.6,0.7,0.8,0.9,1,2,3,4,5,6,7,8,9],"labelExpr":"datum.value==1?'10⁰':datum.value==0.1?'10⁻¹':''","tickSize":-5,"labelPadding":16,"grid":true,"gridOpacity":{"condition":{"test":"datum.value==1||datum.value==0.1","value":1},"value":0},"title":"Δt","titleFontStyle":"italic","titleX":-90,"titleY":223,"titleAngle":-90,"titleAlign":"center","titleBaseline":"middle"}},
    "color":{"field":"s","type":"nominal","scale":{"domain":["HFMn","HFMo","PMMn","PMMo","Mn","Mo"],"range":["#4a8fd1","#4a8fd1","#fdbf2d","#fdbf2d","#00a651","#00a651"]},
     "legend":{"title":null,
      "labelExpr":"datum.value=='HFMn'?'HFM₅₀ new':datum.value=='HFMo'?'HFM₅₀ old':datum.value=='PMMn'?'PMM₅₀ new':datum.value=='PMMo'?'PMM₅₀ old':datum.value=='Mn'?'M₅₀ new':'M₅₀ old'",
      "symbolType":{"expr":"datum.value=='HFMn'?'M-1,0H-0.22M0.22,0H1M0.22,0A0.22,0.22 0 1,1 -0.22,0A0.22,0.22 0 1,1 0.22,0Z':datum.value=='HFMo'?'M-1,0H-0.72M-0.56,0H-0.22M0.22,0H0.56M0.72,0H1M0.22,0A0.22,0.22 0 1,1 -0.22,0A0.22,0.22 0 1,1 0.22,0Z':datum.value=='PMMn'?'M-1,0H-0.2M0.2,0H1M0,-0.3L0.2,0L0,0.3L-0.2,0Z':datum.value=='PMMo'?'M-1,0H-0.72M-0.56,0H-0.25M0.25,0H0.56M0.72,0H1M0,-0.27L0.25,0.18L-0.25,0.18Z':datum.value=='Mn'?'M-1,0H-0.22M0.22,0H1M-0.22,-0.22H0.22V0.22H-0.22Z':'M-1,0H-0.72M-0.56,0H-0.25M0.25,0H0.56M0.72,0H1M0,-0.26L0.25,-0.08L0.155,0.21L-0.155,0.21L-0.25,-0.08Z'"},
      "symbolFillColor":{"expr":"datum.value=='HFMn'?'#1f1f9e':datum.value=='HFMo'?'#3d70a8':datum.value=='PMMn'?'#9a8c5c':datum.value=='PMMo'?'#e9a92a':'#93d27c'"}}},
    "strokeDash":{"field":"s","type":"nominal","scale":{"domain":["HFMn","HFMo","PMMn","PMMo","Mn","Mo"],"range":[[1,0],[6,4],[1,0],[6,4],[1,0],[6,4]]},"legend":null}
   }
  },
  {
   "transform":[{"filter":"indexof(['HFMo','PMMo','Mo'], datum.s) >= 0"}],
   "mark":{"type":"line","strokeWidth":1.5,"clip":true,"strokeJoin":"round"},
   "encoding":{
    "x":{"field":"t","type":"quantitative","scale":{"domain":[-0.1,1.1],"nice":false,"zero":false},
     "axis":{"orient":"top","values":[0,0.2,0.4,0.6,0.8,1],"labels":false,"tickSize":-6,"grid":false,"title":"Planesource","titleX":251,"titleY":-17,"titleBaseline":"alphabetic"}},
    "y":{"field":"v","type":"quantitative","scale":{"type":"log","domain":[0.0292,9.27],"nice":false},
     "axis":{"orient":"right","values":[0.03,0.04,0.05,0.06,0.07,0.08,0.09,0.1,0.2,0.3,0.4,0.5,0.6,0.7,0.8,0.9,1,2,3,4,5,6,7,8,9],"labels":false,"tickSize":-5,"grid":false,"title":"(a)","titleFontWeight":"bold","titleAngle":0,"titleX":-295,"titleY":-17,"titleAlign":"center","titleBaseline":"alphabetic"}},
    "color":{"field":"s","type":"nominal","scale":{"domain":["HFMn","HFMo","PMMn","PMMo","Mn","Mo"],"range":["#4a8fd1","#4a8fd1","#fdbf2d","#fdbf2d","#00a651","#00a651"]}},
    "strokeDash":{"field":"s","type":"nominal","scale":{"domain":["HFMn","HFMo","PMMn","PMMo","Mn","Mo"],"range":[[1,0],[6,4],[1,0],[6,4],[1,0],[6,4]]},"legend":null}
   }
  }
 ],
 "resolve":{"axis":{"x":"independent","y":"independent"}}
},
{
 "width":435,"height":435,
 "layer":[
  {
   "data":{"name":"bband"},
   "mark":{"type":"rect","color":"#00a651","opacity":1,"clip":true},
   "encoding":{
    "x":{"field":"t1","type":"quantitative","scale":{"domain":[-0.25,2.75],"nice":false,"zero":false},"axis":null},
    "x2":{"field":"t2"},
    "y":{"field":"lo","type":"quantitative","scale":{"type":"log","domain":[0.0311,8.43],"nice":false},"axis":null},
    "y2":{"field":"hi"}
   }
  },
  {
   "data":{"name":"b"},
   "transform":[{"filter":"indexof(['HFMn','PMMn','Mn'], datum.s) >= 0"}],
   "mark":{"type":"line","strokeWidth":1.5,"clip":true,"strokeJoin":"round"},
   "encoding":{
    "x":{"field":"t","type":"quantitative","scale":{"domain":[-0.25,2.75],"nice":false,"zero":false},
     "axis":{"orient":"bottom","values":[0,0.5,1,1.5,2,2.5],"format":"~g","tickSize":-6,"labelPadding":10,"grid":true,"title":"t","titleFontStyle":"italic","titleY":58,"titleBaseline":"alphabetic"}},
    "y":{"field":"v","type":"quantitative","scale":{"type":"log","domain":[0.0311,8.43],"nice":false},
     "axis":{"orient":"left","values":[0.04,0.05,0.06,0.07,0.08,0.09,0.1,0.2,0.3,0.4,0.5,0.6,0.7,0.8,0.9,1,2,3,4,5,6,7,8],"labelExpr":"datum.value==1?'10⁰':datum.value==0.1?'10⁻¹':''","tickSize":-5,"labelPadding":16,"grid":true,"gridOpacity":{"condition":{"test":"datum.value==1||datum.value==0.1","value":1},"value":0},"title":"Δt","titleFontStyle":"italic","titleX":-90,"titleY":223,"titleAngle":-90,"titleAlign":"center","titleBaseline":"middle"}},
    "color":{"field":"s","type":"nominal","scale":{"domain":["HFMn","HFMo","PMMn","PMMo","Mn","Mo"],"range":["#4a8fd1","#4a8fd1","#fdbf2d","#fdbf2d","#00a651","#00a651"]}},
    "strokeDash":{"field":"s","type":"nominal","scale":{"domain":["HFMn","HFMo","PMMn","PMMo","Mn","Mo"],"range":[[1,0],[6,4],[1,0],[6,4],[1,0],[6,4]]},"legend":null}
   }
  },
  {
   "data":{"name":"b"},
   "transform":[{"filter":"indexof(['HFMo','PMMo','Mo'], datum.s) >= 0"}],
   "mark":{"type":"line","strokeWidth":1.5,"clip":true,"strokeJoin":"round"},
   "encoding":{
    "x":{"field":"t","type":"quantitative","scale":{"domain":[-0.25,2.75],"nice":false,"zero":false},
     "axis":{"orient":"top","values":[0,0.5,1,1.5,2,2.5],"labels":false,"tickSize":-6,"grid":false,"title":"Sourcebeam","titleX":251.5,"titleY":-17,"titleBaseline":"alphabetic"}},
    "y":{"field":"v","type":"quantitative","scale":{"type":"log","domain":[0.0311,8.43],"nice":false},
     "axis":{"orient":"right","values":[0.04,0.05,0.06,0.07,0.08,0.09,0.1,0.2,0.3,0.4,0.5,0.6,0.7,0.8,0.9,1,2,3,4,5,6,7,8],"labels":false,"tickSize":-5,"grid":false,"title":"(b)","titleFontWeight":"bold","titleAngle":0,"titleX":-295.5,"titleY":-17,"titleAlign":"center","titleBaseline":"alphabetic"}},
    "color":{"field":"s","type":"nominal","scale":{"domain":["HFMn","HFMo","PMMn","PMMo","Mn","Mo"],"range":["#4a8fd1","#4a8fd1","#fdbf2d","#fdbf2d","#00a651","#00a651"]}},
    "strokeDash":{"field":"s","type":"nominal","scale":{"domain":["HFMn","HFMo","PMMn","PMMo","Mn","Mo"],"range":[[1,0],[6,4],[1,0],[6,4],[1,0],[6,4]]},"legend":null}
   }
  }
 ],
 "resolve":{"axis":{"x":"independent","y":"independent"}}
}
]
}
